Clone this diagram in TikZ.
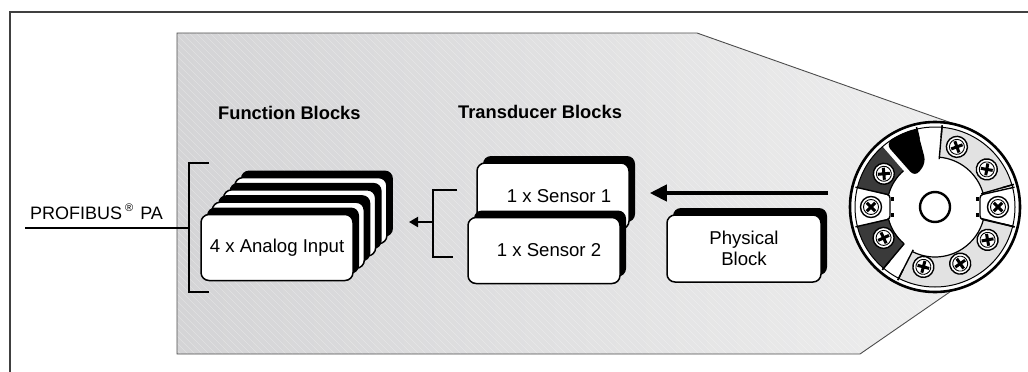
\documentclass[tikz,border=0pt]{standalone}
\usepackage{fontspec}
\setmainfont{Liberation Sans}
\usetikzlibrary{arrows.meta,shadows,calc}

\definecolor{panelL}{HTML}{D4D4D6}
\definecolor{panelR}{HTML}{EEEEEE}
\definecolor{segLight}{HTML}{E2E2E2}
\definecolor{segDark}{HTML}{3A3A3A}
\definecolor{frameGray}{HTML}{404040}

\tikzset{
  cardbox/.style={draw=black, line width=1.5pt, fill=white, rounded corners=8pt,
    minimum width=152pt, minimum height=66pt, inner sep=0pt, align=center,
    font=\fontsize{18.6}{21}\selectfont,
    general shadow={fill=black, shadow xshift=6pt, shadow yshift=7pt}},
  heading/.style={font=\fontsize{18.3}{21}\selectfont\bfseries, anchor=base west, inner sep=0pt},
  buslabel/.style={font=\fontsize{18}{21}\selectfont, anchor=base west, inner sep=0pt},
  busline/.style={line width=2.4pt},
  bracketline/.style={line width=2.4pt},
  bigarrow/.style={line width=4pt, -{Triangle[length=17pt,width=16pt]}},
  smallarrow/.style={line width=2pt, -{Triangle[length=9pt,width=10pt]}},
  screw/.pic={
    \fill[white] (0,0) circle[radius=10.5];
    \draw[line width=1.4pt] (0,0) circle[radius=10.5];
    \draw[line width=0.9pt] (0,0) circle[radius=7.5];
    \draw[line width=3pt] (-6,0) -- (6,0) (0,-6) -- (0,6);
  }
}

\begin{document}
\begin{tikzpicture}[x=1pt,y=-1pt]
\useasboundingbox (0,0) rectangle (1028,372);

% outer frame
\draw[frameGray, line width=1.3pt] (10,372) -- (10,12) -- (1028,12);

% device panel
\def\panelpath{(177,33) -- (697,33) -- (963,127) -- (935,207) -- (957,287) -- (860,354) -- (177,354) -- cycle}
\shade[left color=panelL, right color=panelR] \panelpath;
\begin{scope}
  \clip \panelpath;
  \foreach \i in {-360,-353,...,1000}
    \draw[white, opacity=0.3, line width=0.5pt] (\i,30) -- (\i+330,360);
\end{scope}
\draw[black!70, line width=0.9pt] \panelpath;

% headings
\node[heading] (hfb) at (218,119) {Function Blocks};
\node[heading] (htb) at (458,118) {Transducer Blocks};

% bus label
\node[buslabel] (bus) at (30,219) {PROFIBUS\hspace{3pt}\raisebox{8pt}{\fontsize{11}{11}\selectfont ®}\hspace{7pt}PA};

% function blocks (stacked)
\node[cardbox] (ai3) at (310.9,210.6) {};
\node[cardbox] (ai2) at (299.6,222.9) {};
\node[cardbox] (ai1) at (288.3,235.2) {};
\node[cardbox] (ai)  at (277,247.5) {4 x Analog Input};

% transducer blocks
\node[cardbox] (s1) at (553,196) {\hspace*{12pt}1 x Sensor 1};
\node[cardbox] (s2) at (544,250.5) {\hspace*{10pt}1 x Sensor 2};

% physical block
\node[cardbox, minimum width=154pt, minimum height=67pt] (pb) at (744,248.5) {Physical\\Block};

% connectors
\coordinate (busEnd) at (25,228);
\coordinate (fbBrk) at (189,228);
\coordinate (fbTop) at (209,163);
\coordinate (fbBot) at (209,292);
\draw[busline] (busEnd) -- (fbBrk);
\draw[bracketline] (fbTop) -- (fbBrk |- fbTop) -- (fbBrk |- fbBot) -- (fbBot);

\coordinate (tbTop) at (457,190);
\coordinate (tbBot) at (453,257);
\coordinate (tbMid) at (433,222);
\coordinate (fbIn) at (409,222);
\draw[bracketline] (tbTop) -- (tbMid |- tbTop) -- (tbMid |- tbBot) -- (tbBot);
\draw[smallarrow] (tbMid) -- (fbIn);

\coordinate (devOut) at (828,193);
\draw[bigarrow, shorten >=20pt] (devOut) -- (s1.east |- devOut);

% transmitter head, seen from above
\begin{scope}[shift={(935,207)}, yscale=-1]
  \fill[white] (0,0) circle[radius=85];
  % terminal segments
  \fill[segLight] (16:80) arc[start angle=16, end angle=85, radius=80] -- (85:50) arc[start angle=85, end angle=16, radius=50] -- cycle;
  \fill[segLight] (-117:80) arc[start angle=-117, end angle=-14, radius=80] -- (-14:50) arc[start angle=-14, end angle=-117, radius=50] -- cycle;
  \fill[segDark] (131:80) arc[start angle=131, end angle=166, radius=80] -- (166:48) arc[start angle=166, end angle=131, radius=48] -- cycle;
  \fill[segDark] (-166:80) arc[start angle=-166, end angle=-130, radius=80] -- (-130:48) arc[start angle=-130, end angle=-166, radius=48] -- cycle;
  % key wedge
  \fill[black] (128:80) arc[start angle=128, end angle=103, radius=80] [rounded corners=7pt] -- (-9,44) -- (-20,30) -- cycle;
  \draw[white, line width=1.5pt] (129.5:80) -- (129.5:46);
  % inner edges of the segments
  \draw[line width=1.2pt] (16:50) arc[start angle=16, end angle=85, radius=50];
  \draw[line width=1.2pt] (-117:50) arc[start angle=-117, end angle=-14, radius=50];
  \draw[line width=1.2pt] (131:48) arc[start angle=131, end angle=166, radius=48];
  \draw[line width=1.2pt] (-166:48) arc[start angle=-166, end angle=-130, radius=48];
  % dividers
  \foreach \a in {85,16,-14,-117,-130,103}
    \draw[line width=1.4pt] (\a:70) -- (\a:82);
  \foreach \a in {85,16,-14,-117,-130}
    \draw[line width=1.4pt] (\a:48) -- (\a:82);
  % side terminal pockets
  \draw[line width=1.4pt, rounded corners=3pt] (166:82) -- (-45,12) -- (-45,-12) -- (-166:82);
  \draw[line width=1.4pt, rounded corners=3pt] (14:82) -- (45,12) -- (45,-12) -- (-14:82);
  \fill (-44,10) rectangle (-41,6);
  \fill (-44,-6) rectangle (-41,-10);
  \fill (44,10) rectangle (41,6);
  \fill (44,-6) rectangle (41,-10);
  % rim
  \draw[line width=1pt] (0,0) circle[radius=80];
  \draw[line width=2.6pt] (0,0) circle[radius=85];
  % screws
  \foreach \a/\r/\rot in {70/64/20, 36/64/-10, 0/63/45, -32/62/10, -66/62/35, -101/61/-15, -149/60/25, 180/64/45, 147/61/5}
    \pic[rotate=\rot] at (\a:\r) {screw};
  % centre bore
  \draw[line width=2.4pt] (0,0) circle[radius=15];
\end{scope}

\end{tikzpicture}
\end{document}
